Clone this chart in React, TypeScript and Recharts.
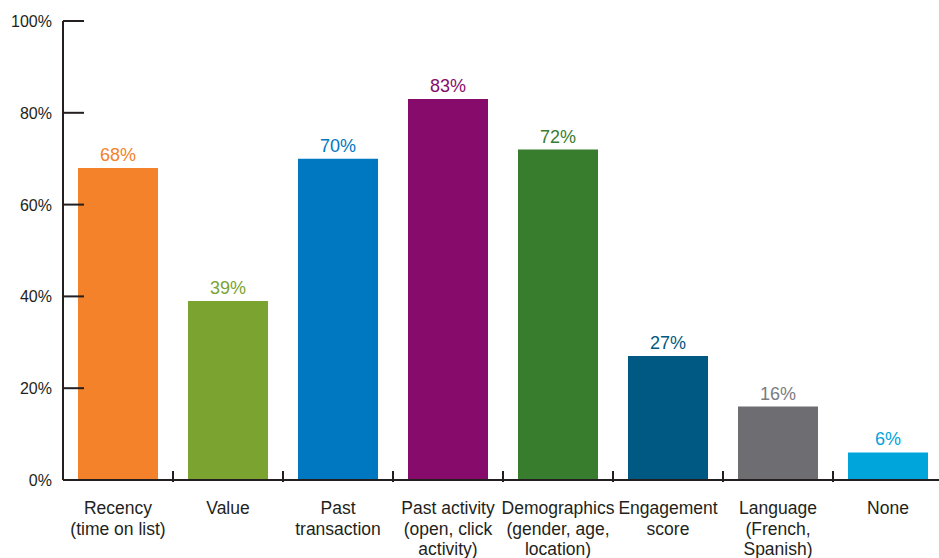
import { BarChart, Bar, XAxis, YAxis, Cell, LabelList } from 'recharts';

// categories (label lines) and shares in percent
const categories: string[][] = [
  ['Recency', '(time on list)'],
  ['Value'],
  ['Past', 'transaction'],
  ['Past activity', '(open, click', 'activity)'],
  ['Demographics', '(gender, age,', 'location)'],
  ['Engagement', 'score'],
  ['Language', '(French,', 'Spanish)'],
  ['None'],
];
const shares = [68, 39, 70, 83, 72, 27, 16, 6];
const barColors = ['#f3822a', '#7aa32f', '#0078c1', '#860b6b', '#387c2e', '#005982', '#6e6e72', '#00a5dc'];
const labelColors = ['#f3822a', '#7aa32f', '#0078c1', '#860b6b', '#387c2e', '#005982', '#7c7c80', '#00a5dc'];
const yTicks = [0, 20, 40, 60, 80, 100];

const chartData = categories.map((lines, i) => ({
  name: lines.join(' '),
  lines,
  value: shares[i],
}));

const FONT = '"Liberation Sans", Arial, Helvetica, sans-serif';
const INK = '#231f20';
const CHART_W = 943;
const CHART_H = 558;
const Y_AXIS_W = 63;
const X_AXIS_H = 78;
const BAND = (CHART_W - Y_AXIS_W) / categories.length;
const Y_TICK_MARGIN = 11;

function YTick(props: any) {
  const { x, y, payload } = props;
  const axisX = x + Y_TICK_MARGIN;
  return (
    <g>
      <line x1={axisX} y1={y} x2={axisX + 21} y2={y} stroke={INK} strokeWidth={2} />
      <text x={x} y={y + 6} textAnchor="end" fontSize={16} fill={INK} fontFamily={FONT}>
        {payload.value}%
      </text>
    </g>
  );
}

function XTick(props: any) {
  const { x, y, payload, index } = props;
  const lines = chartData[index] ? chartData[index].lines : [payload.value];
  return (
    <g>
      {index > 0 && (
        <line x1={x - BAND / 2} y1={y} x2={x - BAND / 2} y2={y - 11} stroke={INK} strokeWidth={2} />
      )}
      <text textAnchor="middle" fontSize={17.5} fill={INK} fontFamily={FONT}>
        {lines.map((l: string, i: number) => (
          <tspan key={i} x={x} y={y + 32 + i * 20.5}>
            {l}
          </tspan>
        ))}
      </text>
    </g>
  );
}

function ValueLabel(props: any) {
  const { x, y, width, value, index } = props;
  return (
    <text
      x={x + width / 2}
      y={y - 7}
      textAnchor="middle"
      fontSize={18}
      fill={labelColors[index]}
      fontFamily={FONT}
    >
      {value}%
    </text>
  );
}

export default function App() {
  return (
    <div
      style={{
        position: 'absolute',
        left: 0,
        top: 0,
        width: 939,
        height: CHART_H,
        overflow: 'hidden',
        background: '#fff',
      }}
    >
      <BarChart
        width={CHART_W}
        height={CHART_H}
        data={chartData}
        margin={{ top: 21, right: 0, left: 0, bottom: 0 }}
      >
        <XAxis
          dataKey="name"
          height={X_AXIS_H}
          interval={0}
          tickSize={0}
          tickLine={false}
          axisLine={{ stroke: INK, strokeWidth: 2 }}
          tick={<XTick />}
        />
        <YAxis
          width={Y_AXIS_W}
          domain={[0, 100]}
          ticks={yTicks}
          interval={0}
          tickSize={0}
          tickMargin={Y_TICK_MARGIN}
          tickLine={false}
          axisLine={{ stroke: INK, strokeWidth: 2 }}
          tick={<YTick />}
        />
        <Bar dataKey="value" barSize={80} isAnimationActive={false}>
          {chartData.map((d, i) => (
            <Cell key={d.name} fill={barColors[i]} />
          ))}
          <LabelList dataKey="value" content={<ValueLabel />} />
        </Bar>
      </BarChart>
    </div>
  );
}
